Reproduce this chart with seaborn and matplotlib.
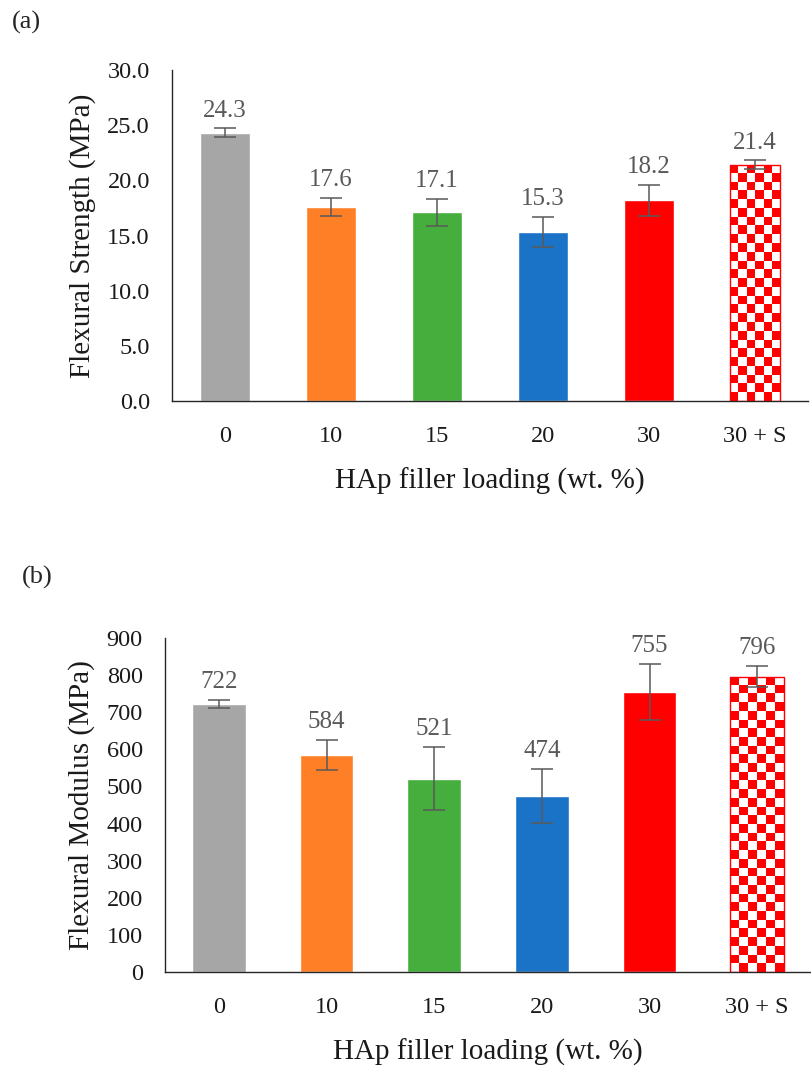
import numpy as np
import matplotlib
matplotlib.use("Agg")
import matplotlib.pyplot as plt
from matplotlib.colors import ListedColormap
import seaborn as sns

sns.set_style("white")
plt.rcParams['font.family'] = ['Liberation Serif', 'DejaVu Serif']

# data
loading = ["0", "10", "15", "20", "30", "30 + S"]
strength = [24.3, 17.6, 17.1, 15.3, 18.2, 21.4]
strength_err = [0.4, 0.8, 1.2, 1.35, 1.4, 0.4]
modulus = [722, 584, 521, 474, 755, 796]
modulus_err = [10, 40, 85, 72, 76, 28]

bar_colors = ['#A6A6A6', '#FF7F27', '#45AE3C', '#1B73C8', '#FF0000', '#FF0000']


def checker_bar(ax, patch, cell_px=8.6):
    """Replace a bar fill with a red/white checker pattern."""
    x0, w, h = patch.get_x(), patch.get_width(), patch.get_height()
    (px0, py0), (px1, py1) = ax.transData.transform([(x0, 0), (x0 + w, h)])
    ncols = max(1, int(round(abs(px1 - px0) / cell_px)))
    nrows = max(1, int(round(abs(py1 - py0) / cell_px)))
    board = (np.indices((nrows, ncols)).sum(axis=0) + 1) % 2
    im = ax.imshow(board, cmap=ListedColormap(['white', '#FF0000']),
                   extent=(x0, x0 + w, 0, h), aspect='auto',
                   interpolation='nearest', zorder=2.5)
    im.set_clip_path(patch)
    patch.set_facecolor('none')
    patch.set_edgecolor('#FF0000')
    patch.set_linewidth(1.0)
    patch.set_zorder(3)


def draw_panel(ax, values, errs, ylim, yticks, fmt, ylabel, width):
    sns.barplot(x=loading, y=values, hue=loading, palette=bar_colors,
                legend=False, width=width, ax=ax, saturation=1, zorder=2)
    pos = np.arange(len(loading))
    ax.errorbar(pos, values, yerr=errs, fmt='none', ecolor='#595959',
                elinewidth=1.1, capsize=8, capthick=1.1, zorder=4)
    ax.set_xlim(-0.5, len(loading) - 0.5)
    ax.set_ylim(*ylim)
    ax.set_yticks(yticks)
    ax.set_yticklabels([fmt.format(t) for t in yticks])
    checker_bar(ax, ax.patches[-1])
    ax.set_xlim(-0.5, len(loading) - 0.5)
    ax.set_ylim(*ylim)

    for p, v, e in zip(pos, values, errs):
        ax.annotate(fmt.format(v), xy=(p, v + e), xytext=(0, 5),
                    textcoords='offset points', ha='center', va='bottom',
                    fontsize=18, color='#595959')

    for side in ['top', 'right']:
        ax.spines[side].set_visible(False)
    for side in ['left', 'bottom']:
        ax.spines[side].set_color('#262626')
        ax.spines[side].set_linewidth(1.0)
    ax.tick_params(axis='both', length=0, labelsize=17.5, colors='#1a1a1a')
    ax.tick_params(axis='y', pad=16)
    ax.tick_params(axis='x', pad=18)
    ax.set_xlabel("HAp filler loading (wt. %)", fontsize=21, color='#1a1a1a',
                  labelpad=15)
    ax.set_ylabel(ylabel, fontsize=21, color='#1a1a1a', labelpad=8)
    ax.grid(False)


fig = plt.figure(figsize=(8.11, 10.66), dpi=100)
ax_a = fig.add_axes([172 / 811, 1 - 401 / 1066, 636 / 811, 331 / 1066])
ax_b = fig.add_axes([165 / 811, 1 - 972 / 1066, 646 / 811, 334 / 1066])

draw_panel(ax_a, strength, strength_err, (0, 30), np.arange(0, 30.1, 5),
           "{:.1f}", "Flexural Strength (MPa)", 0.48)
draw_panel(ax_b, modulus, modulus_err, (0, 900), np.arange(0, 901, 100),
           "{:.0f}", "Flexural Modulus (MPa)", 0.5)

fig.text(12 / 811, 1 - 22 / 1066, "(a)", fontsize=19, va='center', ha='left')
fig.text(22 / 811, 1 - 577 / 1066, "(b)", fontsize=19, va='center', ha='left')

fig.savefig("out.png", dpi=100)
